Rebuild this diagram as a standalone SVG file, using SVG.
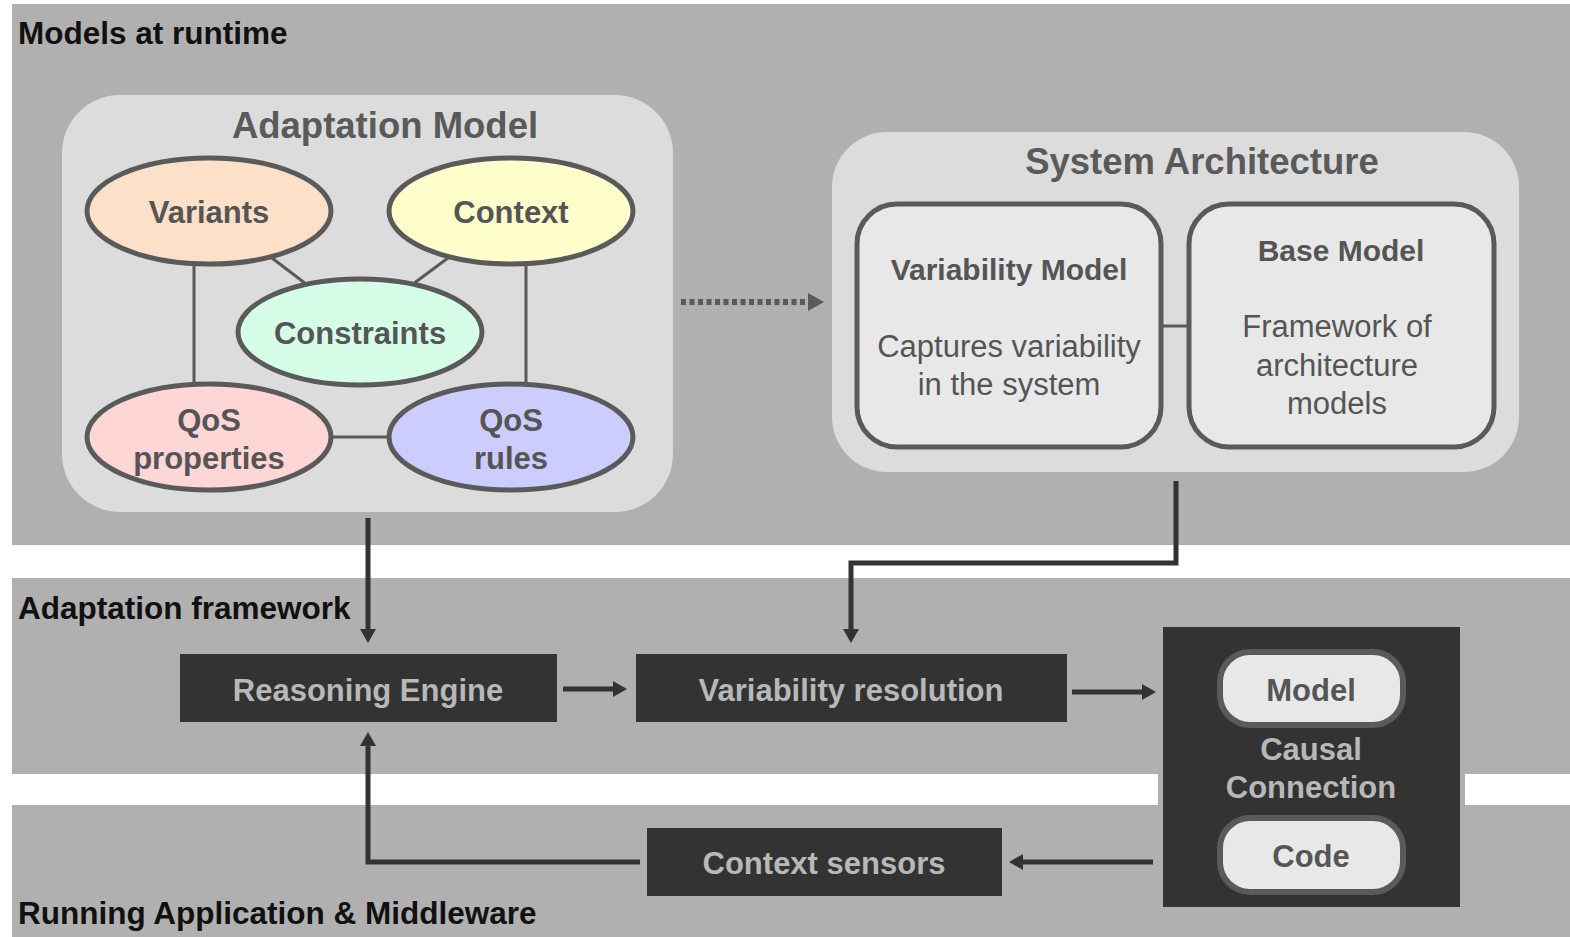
<svg xmlns="http://www.w3.org/2000/svg" width="1570" height="937" viewBox="0 0 1570 937">
<style>
.band{fill:#b0b0b0}
.lbl{font-family:"Liberation Sans",Arial,sans-serif;font-weight:bold;font-size:31.5px;fill:#111}
.panel{fill:#dcdcdc}
.title{font-family:"Liberation Sans",Arial,sans-serif;font-weight:bold;font-size:36.5px;fill:#5a5a5a;text-anchor:middle}
.ell{stroke:#5a5a5a;stroke-width:5}
.et{font-family:"Liberation Sans",Arial,sans-serif;font-weight:bold;font-size:31px;fill:#555;text-anchor:middle}
.card{fill:#e8e8e8;stroke:#5a5a5a;stroke-width:5}
.ct{font-family:"Liberation Sans",Arial,sans-serif;font-size:31px;fill:#555;text-anchor:middle}
.ctb{font-family:"Liberation Sans",Arial,sans-serif;font-weight:bold;font-size:30px;fill:#555;text-anchor:middle}
.dark{fill:#333333}
.dt{font-family:"Liberation Sans",Arial,sans-serif;font-weight:bold;font-size:31px;fill:#b8b8b8;text-anchor:middle}
.pill{fill:#e8e8e8;stroke:#5a5a5a;stroke-width:6}
.thin{stroke:#5a5a5a;stroke-width:3;fill:none}
.arr{stroke:#333;stroke-width:5;fill:none}
</style>
<defs>
<marker id="ahg" markerWidth="16" markerHeight="18" refX="1" refY="9" orient="auto" markerUnits="userSpaceOnUse" viewBox="0 0 16 18"><path d="M0,0 L16,9 L0,18 Z" fill="#5a5a5a"/></marker>
<marker id="ah2" markerWidth="14" markerHeight="16" refX="1" refY="8" orient="auto" markerUnits="userSpaceOnUse" viewBox="0 0 14 16"><path d="M0,0 L14,8 L0,16 Z" fill="#333"/></marker>
</defs>
<rect width="1570" height="937" fill="#ffffff"/>
<g id="bands">
<rect class="band" x="12" y="4" width="1558" height="541"/>
<rect class="band" x="12" y="578" width="1558" height="196"/>
<rect class="band" x="12" y="805" width="1558" height="132"/>
<rect class="band" x="1158" y="770" width="307" height="38"/>
<text class="lbl" x="18" y="44">Models at runtime</text>
<text class="lbl" x="18" y="619">Adaptation framework</text>
<text class="lbl" x="18" y="924">Running Application &amp; Middleware</text>
</g>
<g id="adaptation-model">
<rect class="panel" x="62" y="95" width="611" height="417" rx="58"/>
<text class="title" x="385" y="138">Adaptation Model</text>
</g>
<g id="system-architecture">
<rect class="panel" x="832" y="132" width="687" height="340" rx="55"/>
<text class="title" x="1202" y="174">System Architecture</text>
</g>
<g id="connectors">
<line class="thin" x1="272" y1="258" x2="306" y2="284"/>
<line class="thin" x1="448" y1="258" x2="413" y2="284"/>
<line class="thin" x1="194" y1="262" x2="194" y2="386"/>
<line class="thin" x1="526" y1="262" x2="526" y2="386"/>
<line class="thin" x1="330" y1="437" x2="390" y2="437"/>
<line class="thin" x1="1161" y1="326" x2="1189" y2="326"/>
<line x1="681" y1="302" x2="809" y2="302" stroke="#5a5a5a" stroke-width="6" stroke-dasharray="5,3.5" marker-end="url(#ahg)"/>
<path class="arr" d="M368,518 V630" marker-end="url(#ah2)"/>
<path class="arr" d="M1176,481 V563 H851 V630" marker-end="url(#ah2)"/>
<path class="arr" d="M563,689 H614" marker-end="url(#ah2)"/>
<path class="arr" d="M1072,692 H1143" marker-end="url(#ah2)"/>
<path class="arr" d="M1153,862 H1022" marker-end="url(#ah2)"/>
<path class="arr" d="M640,862 H368 V745" marker-end="url(#ah2)"/>
</g>
<g id="variants">
<ellipse class="ell" cx="209" cy="211" rx="122" ry="53" fill="#fde0c8"/>
<text class="et" x="209" y="223">Variants</text>
</g>
<g id="context">
<ellipse class="ell" cx="511" cy="211" rx="122" ry="53" fill="#ffffcc"/>
<text class="et" x="511" y="223">Context</text>
</g>
<g id="constraints">
<ellipse class="ell" cx="360" cy="332" rx="122" ry="53" fill="#d6fde8"/>
<text class="et" x="360" y="344">Constraints</text>
</g>
<g id="qos-properties">
<ellipse class="ell" cx="209" cy="437" rx="122" ry="53" fill="#ffd6d6"/>
<text class="et" x="209" y="431">QoS</text>
<text class="et" x="209" y="469">properties</text>
</g>
<g id="qos-rules">
<ellipse class="ell" cx="511" cy="437" rx="122" ry="53" fill="#ccccff"/>
<text class="et" x="511" y="431">QoS</text>
<text class="et" x="511" y="469">rules</text>
</g>
<g id="variability-model">
<rect class="card" x="857" y="204" width="304" height="243" rx="40"/>
<text class="ctb" x="1009" y="280">Variability Model</text>
<text class="ct" x="1009" y="357">Captures variability</text>
<text class="ct" x="1009" y="395">in the system</text>
</g>
<g id="base-model">
<rect class="card" x="1189" y="204" width="305" height="243" rx="40"/>
<text class="ctb" x="1341" y="261">Base Model</text>
<text class="ct" x="1337" y="337">Framework of</text>
<text class="ct" x="1337" y="376">architecture</text>
<text class="ct" x="1337" y="414">models</text>
</g>
<g id="reasoning-engine">
<rect class="dark" x="180" y="654" width="377" height="68"/>
<text class="dt" x="368" y="701">Reasoning Engine</text>
</g>
<g id="variability-resolution">
<rect class="dark" x="636" y="654" width="431" height="68"/>
<text class="dt" x="851" y="701">Variability resolution</text>
</g>
<g id="context-sensors">
<rect class="dark" x="647" y="828" width="355" height="68"/>
<text class="dt" x="824" y="874">Context sensors</text>
</g>
<g id="causal-connection">
<rect class="dark" x="1163" y="627" width="297" height="280"/>
<rect class="pill" x="1220" y="652" width="183" height="73" rx="30"/>
<text class="ctb" x="1311" y="701" style="font-size:31px">Model</text>
<text class="dt" x="1311" y="760">Causal</text>
<text class="dt" x="1311" y="798">Connection</text>
<rect class="pill" x="1220" y="818" width="183" height="74" rx="30"/>
<text class="ctb" x="1311" y="867" style="font-size:31px">Code</text>
</g>
</svg>
